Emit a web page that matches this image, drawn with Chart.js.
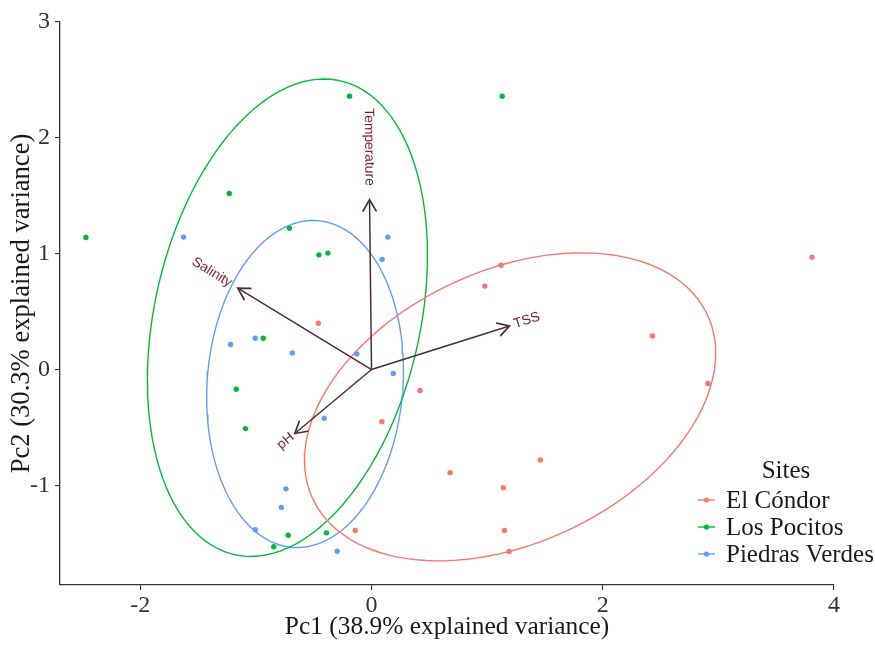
<!DOCTYPE html>
<html>
<head>
<meta charset="utf-8">
<script src="https://cdn.jsdelivr.net/npm/chart.js@4.4.1/dist/chart.umd.min.js"></script>
<style>
body{margin:0;background:#fff}
#wrap{width:875px;height:646px;position:relative}
</style>
</head>
<body>
<div id="wrap"><canvas id="pcaChart"></canvas></div>
<script>
// sample scores per site (Pc1, Pc2)
var condorX = [-0.46, 1.12, 0.98, 3.81, 2.43, 2.91, 0.42, 0.09, 0.68, 1.46, 1.14, 1.15, 1.19, -0.14];
var condorY = [0.40, 0.90, 0.72, 0.97, 0.29, -0.12, -0.18, -0.45, -0.89, -0.78, -1.02, -1.39, -1.57, -1.39];
var pocitosX = [-2.47, -0.19, 1.13, -1.23, -0.71, -0.455, -0.377, -0.936, -1.17, -1.09, -0.72, -0.845, -0.39];
var pocitosY = [1.14, 2.36, 2.36, 1.52, 1.22, 0.99, 1.005, 0.27, -0.17, -0.51, -1.43, -1.53, -1.41];
var verdesX = [-1.625, 0.141, 0.092, -1.219, -1.005, -0.685, -0.127, 0.188, -0.409, -0.74, -0.78, -1.005, -0.297];
var verdesY = [1.143, 1.143, 0.951, 0.216, 0.27, 0.143, 0.134, -0.034, -0.42, -1.03, -1.19, -1.383, -1.569];

// variable loadings (arrows)
var varNames = ["Temperature", "Salinity", "TSS", "pH"];
var varPc1 = [-0.017, -1.156, 1.193, -0.663];
var varPc2 = [1.466, 0.703, 0.376, -0.552];

var siteNames = ["El Cóndor", "Los Pocitos", "Piedras Verdes"];
var siteColors = ["#F8766D", "#00BA38", "#619CFF"];
var xTicks = [-2, 0, 2, 4];
var yTicks = [-1, 0, 1, 2, 3];
var xTitle = "Pc1 (38.9% explained variance)";
var yTitle = "Pc2 (30.3% explained variance)";
var legendTitle = "Sites";
var ellipseProb = 0.68;

var arrowColor = "#4f2c33";
var labelColor = "#7c1f2c";
var serif = '"Liberation Serif", "Times New Roman", serif';

function toPoints(xs, ys){
    var out = [];
    for(var i=0;i<xs.length;i++){ out.push({x:xs[i], y:ys[i]}); }
    return out;
}

// normal data ellipse like ggbiplot (chol of covariance * sqrt(qchisq(p,2)))
function dataEllipse(xs, ys){
    var n = xs.length, mx = 0, my = 0;
    for(var i=0;i<n;i++){ mx += xs[i]; my += ys[i]; }
    mx /= n; my /= n;
    var sxx = 0, syy = 0, sxy = 0;
    for(i=0;i<n;i++){
        sxx += (xs[i]-mx)*(xs[i]-mx);
        syy += (ys[i]-my)*(ys[i]-my);
        sxy += (xs[i]-mx)*(ys[i]-my);
    }
    sxx /= (n-1); syy /= (n-1); sxy /= (n-1);
    var a = Math.sqrt(sxx), b = sxy/a, c = Math.sqrt(syy - b*b);
    var ed = Math.sqrt(-2*Math.log(1-ellipseProb));
    var pts = [];
    for(var k=0;k<=120;k++){
        var t = -Math.PI + 2*Math.PI*k/120;
        var ct = Math.cos(t), st = Math.sin(t);
        pts.push({x: mx + ed*ct*a, y: my + ed*(ct*b + st*c)});
    }
    return pts;
}

var groupsX = [condorX, pocitosX, verdesX];
var groupsY = [condorY, pocitosY, verdesY];
var datasets = [];

for(var g=0; g<3; g++){
    datasets.push({
        label: siteNames[g],
        data: toPoints(groupsX[g], groupsY[g]),
        showLine: false,
        pointRadius: 2.7,
        pointBorderWidth: 0,
        pointBackgroundColor: siteColors[g],
        order: 0
    });
}
for(g=0; g<3; g++){
    datasets.push({
        label: siteNames[g] + " ellipse",
        data: dataEllipse(groupsX[g], groupsY[g]),
        showLine: true,
        fill: false,
        tension: 0,
        pointRadius: 0,
        borderColor: siteColors[g],
        borderWidth: 1.4,
        order: 2
    });
}
for(var v=0; v<varNames.length; v++){
    datasets.push({
        label: varNames[v],
        data: [{x:0, y:0}, {x:varPc1[v], y:varPc2[v]}],
        showLine: true,
        fill: false,
        pointRadius: 0,
        borderColor: arrowColor,
        borderWidth: 1.5,
        order: 1
    });
}

// arrow heads + variable labels
var biplotArrows = {
    id: "biplotArrows",
    afterDatasetsDraw: function(chart){
        var ctx = chart.ctx, xs = chart.scales.x, ys = chart.scales.y;
        var ox = xs.getPixelForValue(0), oy = ys.getPixelForValue(0);
        for(var i=0;i<varNames.length;i++){
            var tx = xs.getPixelForValue(varPc1[i]), ty = ys.getPixelForValue(varPc2[i]);
            var ang = Math.atan2(ty-oy, tx-ox);
            var hl = 13, ha = Math.PI/6;
            ctx.save();
            ctx.strokeStyle = arrowColor;
            ctx.lineWidth = 1.7;
            ctx.lineCap = "round";
            ctx.beginPath();
            ctx.moveTo(tx - hl*Math.cos(ang-ha), ty - hl*Math.sin(ang-ha));
            ctx.lineTo(tx, ty);
            ctx.lineTo(tx - hl*Math.cos(ang+ha), ty - hl*Math.sin(ang+ha));
            ctx.stroke();

            var rot = Math.atan(varPc2[i]/varPc1[i]);
            ctx.font = '13.8px "Liberation Sans", Arial, sans-serif';
            var w = ctx.measureText(varNames[i]).width;
            ctx.translate(tx, ty);
            ctx.rotate(-rot);
            ctx.fillStyle = labelColor;
            ctx.textBaseline = "middle";
            if(varPc1[i] >= 0){
                ctx.textAlign = "left";
                ctx.fillText(varNames[i], 0.18*w, 0);
            } else {
                ctx.textAlign = "right";
                ctx.fillText(varNames[i], -0.18*w, 0);
            }
            ctx.restore();
        }
    }
};

var sitesLegend = {
    id: "sitesLegend",
    afterDraw: function(chart){
        var ctx = chart.ctx;
        ctx.save();
        ctx.font = "25px " + serif;
        ctx.fillStyle = "#1a1a1a";
        ctx.textBaseline = "alphabetic";
        ctx.textAlign = "center";
        ctx.fillText(legendTitle, 786, 478);
        ctx.textAlign = "left";
        for(var i=0;i<siteNames.length;i++){
            var cy = 500 + i*27;
            ctx.strokeStyle = siteColors[i];
            ctx.lineWidth = 1.4;
            ctx.beginPath();
            ctx.moveTo(698, cy); ctx.lineTo(715, cy);
            ctx.stroke();
            ctx.fillStyle = siteColors[i];
            ctx.beginPath();
            ctx.arc(706.5, cy, 2.6, 0, Math.PI*2);
            ctx.fill();
            ctx.fillStyle = "#1a1a1a";
            ctx.fillText(siteNames[i], 726, cy + 8);
        }
        ctx.restore();
    }
};

var axisGrid = {display: true, drawOnChartArea: false, drawTicks: true, tickLength: 5, color: "#333", lineWidth: 1.1};
var axisBorder = {display: true, color: "#333", width: 1.3};

new Chart(document.getElementById("pcaChart"), {
    type: "scatter",
    data: {datasets: datasets},
    options: {
        responsive: true,
        maintainAspectRatio: false,
        animation: false,
        layout: {padding: {top: 22, right: 41, left: 0, bottom: 0}},
        plugins: {legend: {display: false}, tooltip: {enabled: false}},
        scales: {
            x: {
                type: "linear",
                min: -2.694,
                max: 4.0,
                afterFit: function(s){ s.height = 61; },
                afterBuildTicks: function(s){ s.ticks = xTicks.map(function(t){ return {value: t}; }); },
                grid: axisGrid,
                border: axisBorder,
                ticks: {font: {family: serif, size: 24}, color: "#333", padding: 1, maxRotation: 0,
                        callback: function(val){ return String(val); }},
                title: {display: true, text: xTitle, font: {family: serif, size: 25.4}, color: "#1a1a1a",
                        padding: {top: 0, bottom: 3}}
            },
            y: {
                type: "linear",
                min: -1.86,
                max: 3.0,
                afterFit: function(s){ s.width = 60; },
                afterBuildTicks: function(s){ s.ticks = yTicks.map(function(t){ return {value: t}; }); },
                grid: axisGrid,
                border: axisBorder,
                ticks: {font: {family: serif, size: 24}, color: "#333", padding: 5,
                        callback: function(val){ return String(val); }},
                title: {display: true, text: yTitle, font: {family: serif, size: 26.6}, color: "#1a1a1a",
                        padding: {top: 6, bottom: 0}}
            }
        }
    },
    plugins: [biplotArrows, sitesLegend]
});
</script>
</body>
</html>
